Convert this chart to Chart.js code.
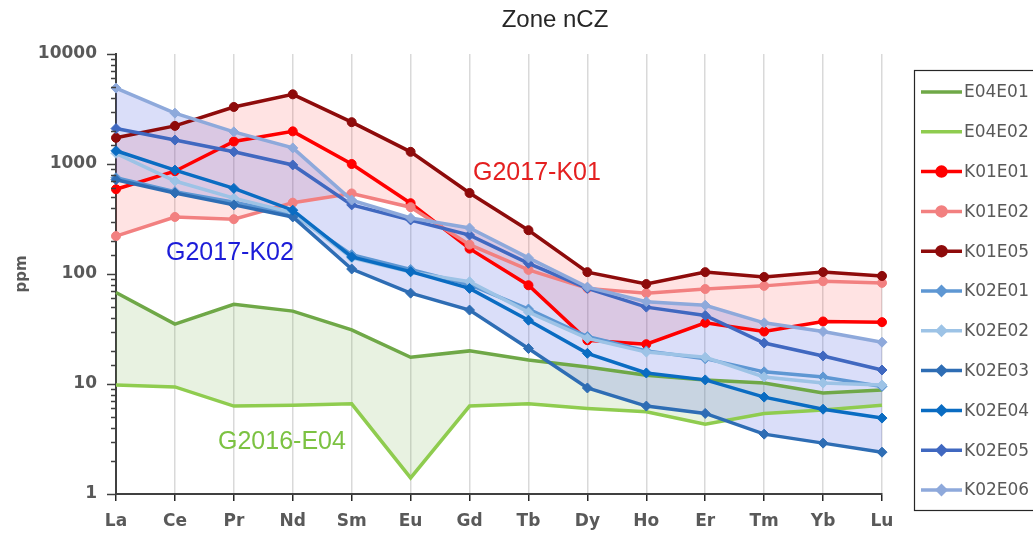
<!DOCTYPE html>
<html>
<head>
<meta charset="utf-8">
<title>Zone nCZ</title>
<script src="https://cdn.jsdelivr.net/npm/chart.js@4.4.1/dist/chart.umd.min.js"></script>
<style>
  html, body { margin: 0; padding: 0; background: #fff; }
</style>
</head>
<body>
<canvas id="chart" width="1033" height="536"></canvas>
<script>
// Tierras raras (ppm), zona nCZ
const elementos = ["La", "Ce", "Pr", "Nd", "Sm", "Eu", "Gd", "Tb", "Dy", "Ho", "Er", "Tm", "Yb", "Lu"];
const ticksY = [1, 10, 100, 1000, 10000];

const E04E01 = [68, 35, 53, 46, 31, 17.5, 20, 16.5, 14.3, 12, 10.9, 10.2, 8.3, 8.8];
const E04E02 = [9.8, 9.4, 6.3, 6.4, 6.6, 1.4, 6.3, 6.6, 6.0, 5.6, 4.3, 5.4, 5.8, 6.4];

const K01E01 = [590, 860, 1600, 1980, 1000, 440, 170, 79, 25, 23, 36, 30, 37, 36.5];
const K01E02 = [221, 330, 315, 445, 540, 405, 185, 109, 74, 67, 73, 78, 86, 83];
const K01E05 = [1730, 2220, 3300, 4300, 2400, 1290, 545, 250, 104, 81, 104, 94, 104, 96];

const K02E01 = [750, 560, 450, 350, 150, 110, 80, 48, 27, 20, 17, 12.9, 11.6, 9.5];
const K02E02 = [1250, 700, 490, 360, 140, 104, 85, 45, 26, 19.5, 17.5, 11.6, 10.2, 9.8];
const K02E03 = [720, 545, 425, 330, 111, 67, 47, 21, 9.2, 6.3, 5.4, 3.5, 2.9, 2.4];
const K02E04 = [1320, 880, 600, 380, 143, 105, 74, 38, 19, 12.6, 10.9, 7.6, 5.9, 4.9];
const K02E05 = [2100, 1650, 1290, 980, 425, 310, 226, 125, 74, 50, 42, 23.6, 18, 13.4];
const K02E06 = [4900, 2900, 1960, 1400, 470, 323, 262, 140, 76, 56, 52, 36, 30, 24];

// límite inferior del grupo K01 (para el sombreado)
const K01min = K01E01.map((v, i) => Math.min(v, K01E02[i]));

function serie(nombre, datos, color, forma) {
  return {
    label: nombre,
    data: datos,
    borderColor: color,
    backgroundColor: color,
    borderWidth: 3.5,
    pointStyle: forma || false,
    pointRadius: forma ? (forma === "circle" ? 4.5 : 5) : 0,
    pointBackgroundColor: color,
    pointBorderColor: color,
    pointBorderWidth: 1,
    fill: false,
    tension: 0
  };
}

const datasets = [
  { label: "K01min", data: K01min, borderWidth: 0, pointRadius: 0, fill: false, envolvente: true },
  serie("E04E01", E04E01, "#6FA847"),
  serie("E04E02", E04E02, "#8FCC4F"),
  serie("K01E01", K01E01, "#FF0000", "circle"),
  serie("K01E02", K01E02, "#F28080", "circle"),
  serie("K01E05", K01E05, "#8E0B0B", "circle"),
  serie("K02E01", K02E01, "#5E97D3", "rectRot"),
  serie("K02E02", K02E02, "#9DC3E6", "rectRot"),
  serie("K02E03", K02E03, "#2E6DB4", "rectRot"),
  serie("K02E04", K02E04, "#0A6CC2", "rectRot"),
  serie("K02E05", K02E05, "#4068C0", "rectRot"),
  serie("K02E06", K02E06, "#8EA9DB", "rectRot")
];

const idx = nombre => datasets.findIndex(d => d.label === nombre);

// bandas de cada grupo
datasets[idx("E04E01")].fill = { target: idx("E04E02") };
datasets[idx("E04E01")].backgroundColor = "rgba(112,173,71,0.16)";
datasets[idx("K01E05")].fill = { target: idx("K01min") };
datasets[idx("K01E05")].backgroundColor = "rgba(255,40,40,0.13)";
datasets[idx("K02E06")].fill = { target: idx("K02E03") };
datasets[idx("K02E06")].backgroundColor = "rgba(70,90,225,0.2)";

// las series posteriores quedan encima
datasets.forEach((d, i) => { d.order = datasets.length - i; });

const gris = "#595959";

const extras = {
  id: "extras",
  afterDraw(chart) {
    const ctx = chart.ctx;
    const y = chart.scales.y;
    const area = chart.chartArea;

    // marcas del eje logarítmico
    ctx.save();
    ctx.strokeStyle = "#404040";
    ctx.lineWidth = 1.5;
    y.ticks.forEach(t => {
      const py = Math.round(y.getPixelForValue(t.value)) + 0.5;
      const mayor = ticksY.includes(t.value);
      ctx.beginPath();
      ctx.moveTo(area.left - (mayor ? 9 : 5), py);
      ctx.lineTo(area.left, py);
      ctx.stroke();
    });

    // título
    ctx.fillStyle = "#262626";
    ctx.font = "24px 'Liberation Sans'";
    ctx.textAlign = "center";
    ctx.textBaseline = "middle";
    ctx.fillText("Zone nCZ", 555, 20);

    // rótulos de grupo
    ctx.font = "25px 'Liberation Sans'";
    ctx.textAlign = "left";
    ctx.textBaseline = "alphabetic";
    ctx.fillStyle = "#E42020";
    ctx.fillText("G2017-K01", 473, 180);
    ctx.fillStyle = "#1C1CD8";
    ctx.fillText("G2017-K02", 166, 260);
    ctx.fillStyle = "#7CC242";
    ctx.fillText("G2016-E04", 218, 449);

    // leyenda
    ctx.strokeStyle = "#262626";
    ctx.lineWidth = 1.2;
    ctx.strokeRect(914.5, 70.5, 160, 440);
    ctx.font = "17px 'DejaVu Sans'";
    ctx.textBaseline = "middle";
    chart.data.datasets.filter(d => !d.envolvente).forEach((d, i) => {
      const ly = 92 + i * 39.8;
      ctx.strokeStyle = d.borderColor;
      ctx.lineWidth = 3.5;
      ctx.beginPath();
      ctx.moveTo(921, ly);
      ctx.lineTo(962, ly);
      ctx.stroke();
      if (d.pointStyle) {
        ctx.fillStyle = d.borderColor;
        Chart.helpers.drawPoint(ctx, {
          pointStyle: d.pointStyle,
          radius: d.pointStyle === "circle" ? 4.5 : 4,
          rotation: 0,
          borderWidth: 1
        }, 941.5, ly);
      }
      ctx.fillStyle = gris;
      ctx.fillText(d.label, 964, ly + 1);
    });
    ctx.restore();
  }
};

const ctx = document.getElementById("chart").getContext("2d");
new Chart(ctx, {
  type: "line",
  data: { labels: elementos, datasets: datasets },
  options: {
    responsive: false,
    animation: false,
    devicePixelRatio: 1,
    layout: { padding: { left: 0, right: 151, top: 54, bottom: 0 } },
    plugins: {
      legend: { display: false },
      title: { display: false },
      tooltip: { enabled: false },
      filler: { drawTime: "beforeDatasetsDraw" }
    },
    scales: {
      x: {
        type: "category",
        offset: false,
        afterFit: s => { s.height = 42; },
        grid: {
          color: "#D9D9D9",
          lineWidth: 1.5,
          drawTicks: true,
          tickLength: 7,
          tickColor: "#262626",
          tickWidth: 1.5
        },
        border: { display: true, color: "#404040", width: 2 },
        ticks: {
          color: gris,
          font: { family: "'DejaVu Sans'", size: 17, weight: "bold" },
          padding: 10,
          maxRotation: 0,
          autoSkip: false
        }
      },
      y: {
        type: "logarithmic",
        min: 1,
        max: 10000,
        afterFit: s => { s.width = 116; },
        grid: { display: false, drawTicks: false },
        border: { display: true, color: "#404040", width: 2 },
        title: {
          display: true,
          text: "ppm",
          color: gris,
          font: { family: "'DejaVu Sans'", size: 15, weight: "bold" },
          padding: { top: 13, bottom: 0 }
        },
        ticks: {
          color: gris,
          font: { family: "'DejaVu Sans'", size: 17, weight: "bold" },
          padding: 19,
          autoSkip: false,
          callback: v => ticksY.includes(v) ? String(v) : ""
        }
      }
    }
  },
  plugins: [extras]
});
</script>
</body>
</html>
